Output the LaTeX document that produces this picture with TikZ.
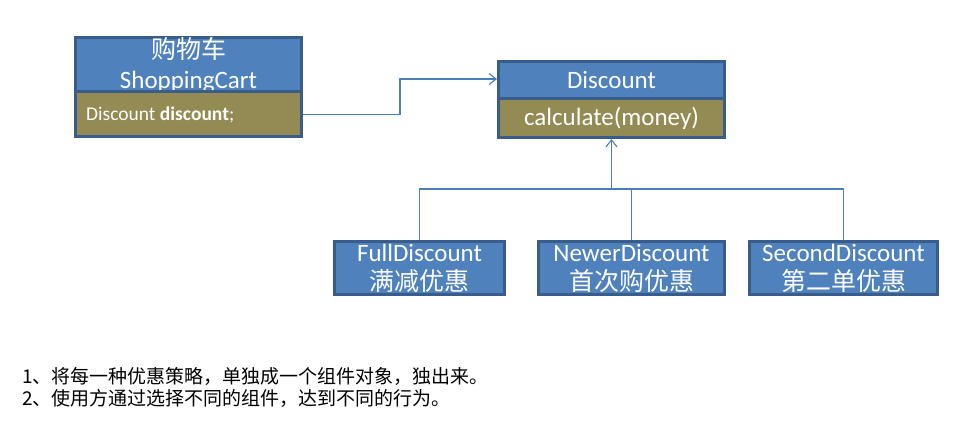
\documentclass[tikz,border=0pt]{standalone}
\usepackage{fontspec}
\setmainfont{Carlito}
\newfontfamily\cjk{Noto Sans CJK SC}
\usetikzlibrary{arrows.meta}
\definecolor{boxblue}{HTML}{4F81BD}
\definecolor{boxedge}{HTML}{385D8A}
\definecolor{boxolive}{HTML}{948A54}
\definecolor{linkblue}{HTML}{4A7EBB}
\tikzset{
  part/.style={rectangle, inner sep=0pt, text=white, line width=3pt, draw=boxedge},
  bluepart/.style={part, fill=boxblue},
  olivepart/.style={part, fill=boxolive},
  link/.style={draw=linkblue, line width=1.2pt},
  opentip/.style={-{Straight Barb[length=7pt,width=11pt,line width=1.1pt]}},
  big/.style={font=\fontsize{25}{28}\selectfont, align=center},
}
\begin{document}
\begin{tikzpicture}[x=1pt,y=-1pt]
\useasboundingbox (0,0) rectangle (978,422);
% ShoppingCart
\node[bluepart, big, minimum width=226pt, minimum height=54.5pt, font=\fontsize{25}{30}\selectfont] (cartTop) at (188.5,64.75)
  {{\cjk 购物车}\\ShoppingCart};
\node[olivepart, minimum width=226pt, minimum height=44.5pt] (cartBody) at (188.5,114.25) {};
\node[anchor=west, text=white, font=\fontsize{19.5}{22}\selectfont, inner sep=0pt] (cartAttr) at (86,115) {Discount \textbf{discount};};
% Discount
\node[bluepart, big, minimum width=226pt, minimum height=37.5pt] (discTop) at (611.5,80.25) {Discount};
\node[olivepart, big, minimum width=226pt, minimum height=38.5pt] (discBody) at (611.5,118.25) {calculate(money)};
% subclasses
\node[bluepart, big, minimum width=170pt, minimum height=53pt, font=\fontsize{25}{29}\selectfont] (full) at (419.5,268) {FullDiscount\\{\cjk 满减优惠}};
\node[bluepart, big, minimum width=186pt, minimum height=53pt, font=\fontsize{25}{29}\selectfont] (newer) at (631.5,268) {NewerDiscount\\{\cjk 首次购优惠}};
\node[bluepart, big, minimum width=188pt, minimum height=53pt, font=\fontsize{25}{29}\selectfont] (second) at (843.5,268) {SecondDiscount\\{\cjk 第二单优惠}};
% association
\coordinate (bendA) at (400,114.25);
\coordinate (bendB) at (400,79);
\coordinate (assocEnd) at (discTop.west |- bendB);
\draw[link, opentip] (cartBody.east) -- (bendA) -- (bendB) -- (assocEnd);
% inheritance
\coordinate (junction) at (611.5,189);
\draw[link] (full.north) |- (junction);
\draw[link] (newer.north) |- (junction);
\draw[link] (second.north) |- (junction);
\draw[link, opentip] (junction) -- (discBody.south);
% notes
\node[anchor=west, align=left, inner sep=0pt, font=\cjk\fontsize{19}{21.5}\selectfont] (notes) at (22,387.5)
  {1、将每一种优惠策略，单独成一个组件对象，独出来。\\2、使用方通过选择不同的组件，达到不同的行为。};
\end{tikzpicture}
\end{document}
